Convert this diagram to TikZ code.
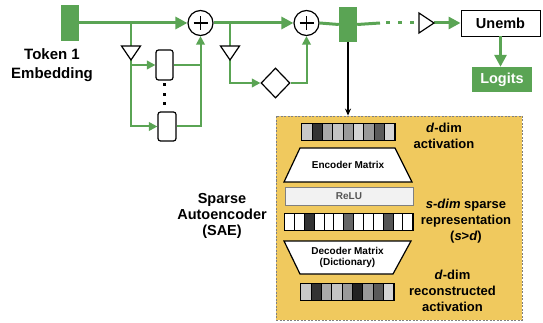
\documentclass[tikz,border=0pt]{standalone}
\usepackage{fontspec}
\setmainfont{Liberation Sans}
\usetikzlibrary{arrows.meta,shapes.geometric,calc}
\definecolor{grn}{HTML}{5AA454}
\definecolor{saefill}{HTML}{F0C95E}
\definecolor{relufill}{HTML}{F2F2F2}
\definecolor{relutext}{HTML}{555555}
\tikzset{
  mline/.style={draw=grn, line width=3pt},
  gline/.style={draw=grn, line width=2pt},
  bigtip/.style={-{Triangle[length=12pt,width=12pt]}},
  smalltip/.style={-{Triangle[length=8.5pt,width=8.5pt]}}
}
\begin{document}
\begin{tikzpicture}[x=1pt,y=-1pt,
  greenrect/.style={fill=grn, draw=none, inner sep=0pt},
  oplus/.style={circle, draw, fill=white, line width=1.2pt, minimum size=25pt, inner sep=0pt,
    path picture={\draw[line width=1.2pt] (path picture bounding box.center) ++(-7pt,0) -- ++(14pt,0);
                  \draw[line width=1.2pt] (path picture bounding box.center) ++(0,-7pt) -- ++(0,14pt);}},
  tri/.style={draw, fill=white, line width=1.2pt, line join=miter},
  mlp/.style={draw, fill=white, rounded corners=2.5pt, line width=1.2pt, inner sep=0pt},
  biglabel/.style={font=\fontsize{14.5}{16}\selectfont\bfseries, align=center, inner sep=0pt},
  sidelabel/.style={font=\fontsize{13}{16}\selectfont\bfseries, align=center, inner sep=0pt},
  smalltext/.style={font=\fontsize{10}{11.5}\selectfont\bfseries, align=center, inner sep=0pt},
  strip/.style={draw, line width=0.8pt, inner sep=0pt},
  trap/.style={draw, fill=white, line width=1.2pt, line join=miter}
]
\useasboundingbox (0,0) rectangle (543,323);

% ---------- residual stream ----------
\node[greenrect, minimum width=18pt, minimum height=36pt] (tok) at (70,23) {};
\node[biglabel, font=\fontsize{15}{19}\selectfont\bfseries] (toklab) at (52,65.5) {Token 1\\Embedding};

\node[oplus] (p1) at (200.5,23) {};
\node[oplus] (p2) at (306.5,23) {};
\node[greenrect, minimum width=18pt, minimum height=35pt] (r2) at (348,24.5) {};

\coordinate (b1) at (131,23);
\coordinate (b2) at (230,23);
\coordinate (t1) at (131,53);
\coordinate (t2) at (230,53);
\coordinate (t3) at (426.5,23);
\coordinate (dstart) at (380,23);
\coordinate (dend) at (419,23);

\node[mlp, minimum width=17pt, minimum height=30pt] (box1) at (164.5,65) {};
\node[mlp, minimum width=18pt, minimum height=29pt] (box2) at (167,126.5) {};
\node[diamond, draw, fill=white, line width=1.2pt, minimum width=29pt, minimum height=30pt, inner sep=0pt] (dia) at (275.5,83) {};

\node[draw, line width=0.9pt, minimum width=79pt, minimum height=26pt, inner sep=0pt,
      font=\fontsize{14.5}{16}\selectfont\bfseries] (unemb) at (500.5,23) {Unemb};
\node[greenrect, minimum width=60pt, minimum height=25pt, text=white,
      font=\fontsize{14.5}{16}\selectfont\bfseries] (logits) at (502,79.5) {Logits};

% main line
\draw[mline, bigtip] (tok.east) -- (p1.west);
\draw[mline, bigtip] (p1.east) -- (p2.west);
\draw[mline] (p2.east) -- (r2.west);
\draw[mline] (r2.east) -- (dstart);
\draw[mline, dash pattern=on 4pt off 8pt, dash phase=-6pt] (dstart) -- (dend);
\draw[mline, bigtip] ($(t3)+(7.5,0)$) -- (unemb.west);
\draw[mline, bigtip] (unemb.south) -- (unemb.south |- logits.north);

% attention-like branch (heads)
\draw[gline] (b1) -- ($(t1)+(0,-7)$);
\draw[gline, smalltip] ($(t1)+(0,7)$) |- (box2.west);
\draw[gline, smalltip] (t1 |- box1.west) -- (box1.west);
\draw[gline] (box1.east) -- (box1.east -| p1.south);
\draw[gline, smalltip] (box2.east) -| (p1.south);

% MLP branch
\draw[gline] (b2) -- ($(t2)+(0,-7)$);
\draw[gline, smalltip] ($(t2)+(0,7)$) |- (dia.west);
\draw[gline, smalltip] (dia.east) -| (p2.south);

% triangles
\draw[tri] ($(t1)+(-9.5,-7)$) -- ($(t1)+(9.5,-7)$) -- ($(t1)+(0,7)$) -- cycle;
\draw[tri] ($(t2)+(-9.5,-7)$) -- ($(t2)+(9.5,-7)$) -- ($(t2)+(0,7)$) -- cycle;
\draw[tri] ($(t3)+(-7.5,-10)$) -- ($(t3)+(7.5,0)$) -- ($(t3)+(-7.5,10)$) -- cycle;

% dots between heads
\foreach \yy in {85,95,104} \fill (163,\yy-1.5) rectangle (165.5,\yy+1.5);

% ---------- SAE ----------
\node[draw=gray, fill=saefill, dash pattern=on 2pt off 1.5pt, line width=0.8pt,
      minimum width=246pt, minimum height=204pt, inner sep=0pt] (sae) at (399,218) {};
\draw[line width=1.2pt, -{Stealth[length=7pt,width=6pt]}] (r2.south) -- (r2.south |- sae.north);

\node[biglabel] (saelab) at (222,216) {Sparse\\Autoencoder\\(SAE)};

% activation strip
\node[strip, minimum width=93pt, minimum height=17pt] (act) at (348.5,131.5) {};
\foreach \c [count=\i from 0] in {C8C8C8,333333,AAAAAA,C4C4C4,9A9A9A,D4D4D4,999999,5A5A5A,D4D4D4} {
  \definecolor{cellc}{HTML}{\c}
  \draw[fill=cellc, line width=0.7pt] ($(act.west)+(\i*10.3333,-8.5)$) rectangle ++(10.3333,17);
}

% encoder
\draw[trap] (300,148) -- (395,148) -- (412,182) -- (284,182) -- cycle;
\node[smalltext] (enc) at (348,165) {Encoder Matrix};

% relu
\node[draw=gray, fill=relufill, line width=0.8pt, minimum width=128pt, minimum height=18pt,
      inner sep=0pt, text=relutext, font=\fontsize{10}{11.5}\selectfont\bfseries] (relu) at (349,196) {ReLU};

% sparse strip
\node[strip, minimum width=128pt, minimum height=17pt] (sp) at (349,221.5) {};
\foreach \c [count=\i from 0] in {FFFFFF,FFFFFF,333333,FFFFFF,FFFFFF,FFFFFF,666666,FFFFFF,FFFFFF,FFFFFF,555555,FFFFFF,FFFFFF} {
  \definecolor{cellc}{HTML}{\c}
  \draw[fill=cellc, line width=0.7pt] ($(sp.west)+(\i*9.84615,-8.5)$) rectangle ++(9.84615,17);
}

% decoder
\draw[trap] (284,241) -- (411,241) -- (393,274) -- (300,274) -- cycle;
\node[smalltext] (dec) at (347.5,257.5) {Decoder Matrix\\(Dictionary)};

% reconstructed strip
\node[strip, minimum width=93pt, minimum height=17pt] (rec) at (347.5,291.5) {};
\foreach \c [count=\i from 0] in {C8C8C8,333333,AAAAAA,C4C4C4,9A9A9A,222222,999999,5A5A5A,D4D4D4} {
  \definecolor{cellc}{HTML}{\c}
  \draw[fill=cellc, line width=0.7pt] ($(rec.west)+(\i*10.3333,-8.5)$) rectangle ++(10.3333,17);
}

% side labels
\node[sidelabel] (l1) at (444,135.5) {\textit{d}-dim\\activation};
\node[sidelabel] (l2) at (466,221) {\textit{s-dim} sparse\\representation\\(\textit{s}>\textit{d})};
\node[sidelabel] (l3) at (452.5,291) {\textit{d}-dim\\reconstructed\\activation};
\end{tikzpicture}
\end{document}
